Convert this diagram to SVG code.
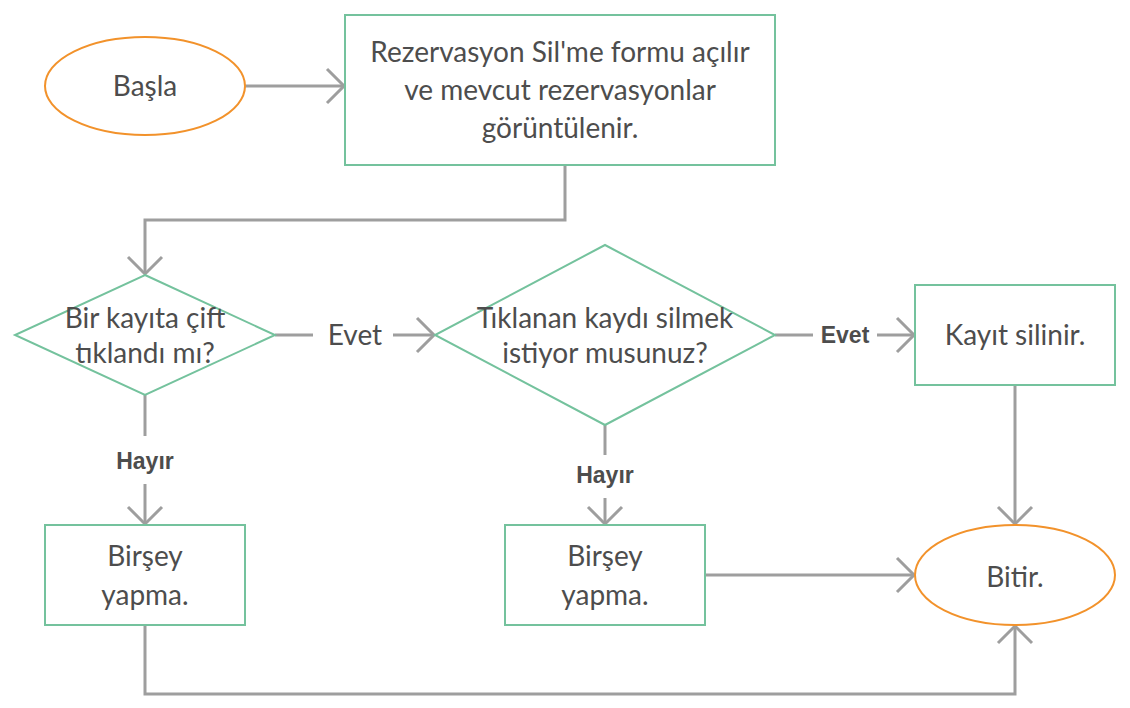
<svg xmlns="http://www.w3.org/2000/svg" width="1130" height="708" viewBox="0 0 1130 708">
<style>
.g{fill:#fff;stroke:#74c29d;stroke-width:2}
.o{fill:#fff;stroke:#f2922b;stroke-width:2}
.t{font-family:Lato,"Liberation Sans",sans-serif;font-size:28px;fill:#4d4d4d;text-anchor:middle;dominant-baseline:central}
.b{font-family:"Liberation Sans",Arial,sans-serif;font-weight:bold;font-size:23px;fill:#4d4d4d;text-anchor:middle;dominant-baseline:central}
.c{fill:none;stroke:#9e9e9e;stroke-width:3}
</style>
<defs>
<marker id="a" markerUnits="userSpaceOnUse" markerWidth="24" markerHeight="40" viewBox="-20 -20 24 40" refX="0" refY="0" orient="auto">
<path d="M-17,-17 L0,0 L-17,17" fill="none" stroke="#9e9e9e" stroke-width="3"/>
</marker>
</defs>
<g id="connectors">
<path class="c" d="M245,86 H344" marker-end="url(#a)"/>
<path class="c" d="M565,165 V220 H145 V274" marker-end="url(#a)"/>
<path class="c" d="M275,335 H313"/>
<path class="c" d="M393,335 H434" marker-end="url(#a)"/>
<path class="c" d="M775,335 H813"/>
<path class="c" d="M877,335 H914" marker-end="url(#a)"/>
<path class="c" d="M1015,385 V524" marker-end="url(#a)"/>
<path class="c" d="M145,395 V436"/>
<path class="c" d="M145,484 V524" marker-end="url(#a)"/>
<path class="c" d="M605,425 V455"/>
<path class="c" d="M605,498 V524" marker-end="url(#a)"/>
<path class="c" d="M705,575 H914" marker-end="url(#a)"/>
<path class="c" d="M145,625 V694 H1015 V626" marker-end="url(#a)"/>
<text class="t" x="355" y="334">Evet</text>
<text class="b" x="845" y="335">Evet</text>
<text class="b" x="145" y="461">Hayır</text>
<text class="b" x="605" y="475">Hayır</text>
</g>
<g id="start">
<ellipse class="o" cx="145" cy="86" rx="100" ry="49"/>
<text class="t" x="145" y="85">Başla</text>
</g>
<g id="form">
<rect class="g" x="345" y="15" width="430" height="150"/>
<text class="t" x="560" y="51">Rezervasyon Sil'me formu açılır</text>
<text class="t" x="560" y="89">ve mevcut rezervasyonlar</text>
<text class="t" x="560" y="127">görüntülenir.</text>
</g>
<g id="decision1">
<polygon class="g" points="145,275 275,335 145,395 15,335"/>
<text class="t" x="145" y="317">Bir kayıta çift</text>
<text class="t" x="145" y="352">tıklandı mı?</text>
</g>
<g id="decision2">
<polygon class="g" points="605,245 775,335 605,425 435,335"/>
<text class="t" x="605" y="317">Tıklanan kaydı silmek</text>
<text class="t" x="605" y="352">istiyor musunuz?</text>
</g>
<g id="delete">
<rect class="g" x="915" y="285" width="200" height="100"/>
<text class="t" x="1015" y="334">Kayıt silinir.</text>
</g>
<g id="nothing1">
<rect class="g" x="45" y="525" width="200" height="100"/>
<text class="t" x="145" y="555">Birşey</text>
<text class="t" x="145" y="594">yapma.</text>
</g>
<g id="nothing2">
<rect class="g" x="505" y="525" width="200" height="100"/>
<text class="t" x="605" y="555">Birşey</text>
<text class="t" x="605" y="594">yapma.</text>
</g>
<g id="end">
<ellipse class="o" cx="1015" cy="575" rx="100" ry="50"/>
<text class="t" x="1015" y="576">Bitir.</text>
</g>
</svg>
